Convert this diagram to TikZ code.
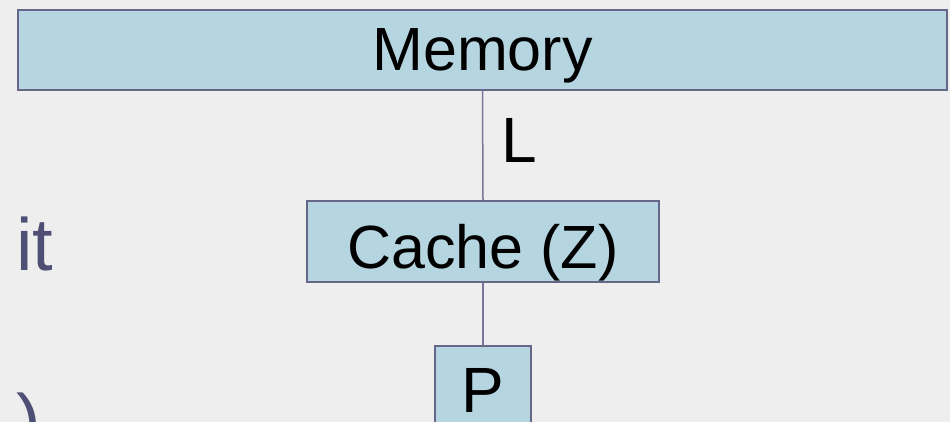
\documentclass[tikz,border=0pt]{standalone}
\usepackage{fontspec}
\setmainfont{Liberation Sans}
\definecolor{boxfill}{HTML}{B5D5E0}
\definecolor{boxline}{HTML}{666688}
\definecolor{wireline}{HTML}{77779A}
\definecolor{slidetext}{HTML}{4F4F76}
\definecolor{paper}{HTML}{EEEEEE}
\begin{document}
\begin{tikzpicture}[x=1pt,y=-1pt,
  unitbox/.style={draw=boxline, line width=2pt, fill=boxfill, inner sep=0pt,
    text depth=0pt},
  wire/.style={draw=wireline, line width=1.5pt},
  bigfont/.style={font=\fontsize{61}{72}\selectfont},
  bulletfont/.style={font=\fontsize{74}{88}\selectfont, text=slidetext, inner sep=0pt}
]
  % page background
  \fill[paper] (0,0) rectangle (950,422);
  \useasboundingbox (0,0) rectangle (950,422);

  % memory / cache / processor stack
  \node[unitbox, bigfont, minimum width=929pt, minimum height=80pt, text height=42pt]
    (memory) at (482.5,50) {Memory};
  \node[unitbox, bigfont, minimum width=352pt, minimum height=81pt, text height=54pt]
    (cache) at (483,241.5) {Cache (Z)};
  \node[unitbox, font=\fontsize{64}{76}\selectfont, minimum width=96pt, minimum height=84pt, text height=48pt]
    (proc) at (483,388) {P};

  % links between the levels
  \draw[wire] (memory.south) -- (cache.north);
  \draw[wire] (cache.south) -- (proc.north);
  \node[font=\fontsize{64}{76}\selectfont, inner sep=0pt, anchor=base west]
    (latency) at (501,163) {L};

  % edge of the slide text on the left
  \node[bulletfont, anchor=base west] (word) at (16,270) {it};
  \node[bulletfont, anchor=base west] (paren) at (16,446) {)};
\end{tikzpicture}
\end{document}
